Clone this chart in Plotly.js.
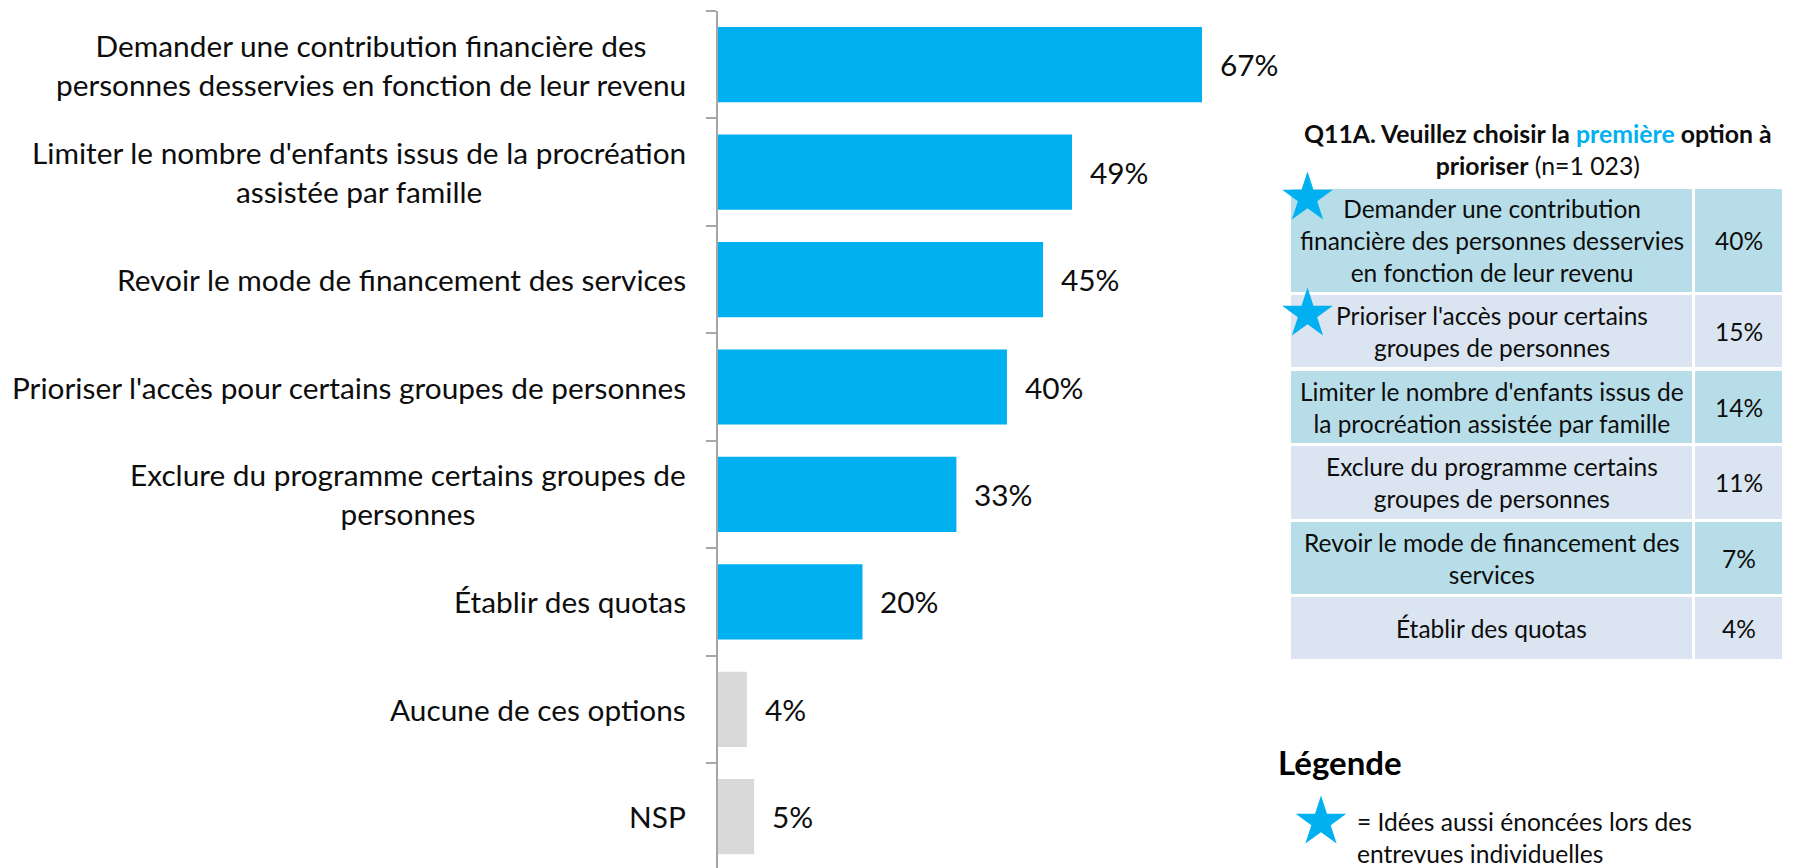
<!DOCTYPE html>
<html>
<head>
<meta charset="utf-8">
<script src="https://cdn.plot.ly/plotly-3.0.1.min.js"></script>
<style>html,body{margin:0;padding:0;background:#fff;}#chart{width:1797px;height:868px;}</style>
</head>
<body>
<div id="chart"></div>
<script>
// ---- Data ----
const categories = [
  "Demander une contribution financière des<br>personnes desservies en fonction de leur revenu",
  "Limiter le nombre d'enfants issus de la procréation<br>assistée par famille",
  "Revoir le mode de financement des services",
  "Prioriser l'accès pour certains groupes de personnes",
  "Exclure du programme certains groupes de<br>personnes",
  "Établir des quotas",
  "Aucune de ces options",
  "NSP"
];
const values = [67, 49, 45, 40, 33, 20, 4, 5];
const responseType = ["option", "option", "option", "option", "option", "option", "other", "other"];

const tableOptions = [
  "Demander une contribution<br>financière des personnes desservies<br>en fonction de leur revenu",
  "Prioriser l'accès pour certains<br>groupes de personnes",
  "Limiter le nombre d'enfants issus de<br>la procréation assistée par famille",
  "Exclure du programme certains<br>groupes de personnes",
  "Revoir le mode de financement des<br>services",
  "Établir des quotas"
];
const tablePcts = ["40%", "15%", "14%", "11%", "7%", "4%"];
const tableStarred = [true, true, false, false, false, false];

const tableTitle = "<b>Q11A. Veuillez choisir la <span style=\"color:#00B0F0\">première</span> option à</b><br><b>prioriser</b> (n=1 023)";
const legendTitle = "<b>Légende</b>";
const legendText = "= Idées aussi énoncées lors des<br>entrevues individuelles";

// ---- Layout geometry ----
const W = 1797, H = 868;
const FONT = "Lato, 'Open Sans', sans-serif";
const BLUE = "#00B0F0", GRAY = "#D9D9D9";
const axisX = 718, topY = 11, xMax = 80, pxPerUnit = 7.224;
const catStep = 107.43;
const px2fx = v => v / W, px2fy = v => 1 - v / H;

const rowsPx = [[189, 292], [295, 367], [371, 443], [446, 519], [522, 594], [597, 659]];
const col1 = [1291, 1692], col2 = [1695, 1782];
const rowColors = ["#B7DEE8", "#DBE5F1"];
const starOffsets = [9, 19]; // star centre below row top, per starred row

const barColors = responseType.map(t => t === "option" ? BLUE : GRAY);

const traces = [{
  type: "bar", orientation: "h",
  y: categories.map((c, i) => i), x: values,
  marker: { color: barColors },
  width: 0.70,
  hoverinfo: "skip",
  xaxis: "x", yaxis: "y"
}];

// star markers (table + legend) on a pixel overlay axis
const starX = [], starY = [];
tableStarred.forEach((s, i) => { if (s) { starX.push(1307.5); starY.push(rowsPx[i][0] + starOffsets[starX.length - 1]); } });
starX.push(1321); starY.push(822);
traces.push({
  type: "scatter", mode: "markers", x: starX, y: starY,
  marker: { symbol: "star", size: 38, color: BLUE, line: { width: 0 } },
  xaxis: "x2", yaxis: "y2", cliponaxis: false, hoverinfo: "skip"
});

const plotH = H - topY;
const yRangeSpan = plotH / catStep;

const shapes = [];
const annotations = [];

// category labels and value labels
categories.forEach((c, i) => {
  annotations.push({
    xref: "paper", yref: "y", x: px2fx(axisX), y: i, xanchor: "right", yanchor: "middle",
    xshift: -30, text: c, align: "center", showarrow: false,
    font: { family: FONT, size: 29.8, color: "#0d0d0d" }
  });
  annotations.push({
    xref: "x", yref: "y", x: values[i], y: i, xanchor: "left", yanchor: "middle",
    xshift: 16, text: values[i] + "%", showarrow: false,
    font: { family: FONT, size: 29.8, color: "#0d0d0d" }
  });
});

// table
tableOptions.forEach((t, i) => {
  const [y0, y1] = rowsPx[i];
  const fill = rowColors[i % 2];
  [col1, col2].forEach(col => shapes.push({
    type: "rect", xref: "paper", yref: "paper", layer: "below",
    x0: px2fx(col[0]), x1: px2fx(col[1]), y0: px2fy(y1), y1: px2fy(y0),
    fillcolor: fill, line: { width: 0 }
  }));
  const yc = px2fy((y0 + y1) / 2);
  annotations.push({
    xref: "paper", yref: "paper", x: px2fx((col1[0] + col1[1]) / 2), y: yc,
    xanchor: "center", yanchor: "middle", align: "center", text: t, showarrow: false,
    font: { family: FONT, size: 24.5, color: "#0d0d0d" }
  });
  annotations.push({
    xref: "paper", yref: "paper", x: px2fx((col2[0] + col2[1]) / 2), y: yc,
    xanchor: "center", yanchor: "middle", align: "center", text: tablePcts[i], showarrow: false,
    font: { family: FONT, size: 24.5, color: "#0d0d0d" }
  });
});

annotations.push({
  xref: "paper", yref: "paper", x: px2fx(1538), y: px2fy(150), xanchor: "center", yanchor: "middle",
  align: "center", text: tableTitle, showarrow: false,
  font: { family: FONT, size: 24.8, color: "#0d0d0d" }
});
annotations.push({
  xref: "paper", yref: "paper", x: px2fx(1276), y: px2fy(762), xanchor: "left", yanchor: "middle",
  align: "left", text: legendTitle, showarrow: false,
  font: { family: FONT, size: 33, color: "#000" }
});
annotations.push({
  xref: "paper", yref: "paper", x: px2fx(1355), y: px2fy(837), xanchor: "left", yanchor: "middle",
  align: "left", text: legendText, showarrow: false,
  font: { family: FONT, size: 24.6, color: "#0d0d0d" }
});

const layout = {
  width: W, height: H,
  margin: { l: 0, r: 0, t: 0, b: 0, pad: 0 },
  paper_bgcolor: "#fff", plot_bgcolor: "rgba(0,0,0,0)",
  showlegend: false,
  bargap: 0.3,
  xaxis: {
    domain: [px2fx(axisX), px2fx(axisX + xMax * pxPerUnit)], range: [0, xMax],
    visible: false, fixedrange: true
  },
  yaxis: {
    domain: [0, px2fy(topY)], type: "linear",
    range: [-0.5 + yRangeSpan, -0.5],
    showline: true, linecolor: "#A6A6A6", linewidth: 2,
    ticks: "outside", ticklen: 10, tickwidth: 2, tickcolor: "#A6A6A6",
    tickmode: "array", tickvals: categories.map((c, i) => i - 0.5).concat([categories.length - 0.5]),
    showticklabels: false, showgrid: false, zeroline: false, fixedrange: true
  },
  xaxis2: { domain: [0, 1], range: [0, W], visible: false, anchor: "y2", fixedrange: true },
  yaxis2: { domain: [0, 1], range: [H, 0], visible: false, anchor: "x2", fixedrange: true },
  shapes: shapes,
  annotations: annotations
};

Plotly.newPlot("chart", traces, layout, { displayModeBar: false, staticPlot: true });
</script>
</body>
</html>
